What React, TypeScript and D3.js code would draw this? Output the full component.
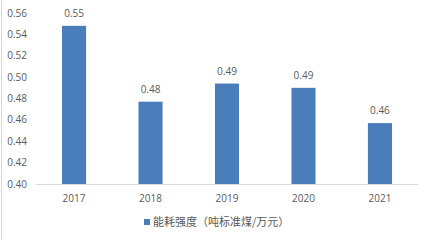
import React from "react";
import * as d3 from "d3";

const years = ["2017", "2018", "2019", "2020", "2021"];
const values = [0.548, 0.477, 0.494, 0.490, 0.457];
const labels = ["0.55", "0.48", "0.49", "0.49", "0.46"];
const yTicks = [0.4, 0.42, 0.44, 0.46, 0.48, 0.5, 0.52, 0.54, 0.56];
const seriesName = "能耗强度（吨标准煤/万元）";

export default function App() {
  const W = 429, H = 240;
  const x = d3.scaleBand<string>().domain(years).range([36, 418]).paddingInner(0.685).paddingOuter(0.34);
  const y = d3.scaleLinear().domain([0.4, 0.56]).range([184, 13]);
  const font = "'Open Sans', 'Noto Sans CJK SC', sans-serif";
  const color = "#4a7ebb";
  const textColor = "#595959";
  return (
    <svg width={W} height={H} style={{ position: "fixed", left: 0, top: 0 }} fontFamily={font}>
      <rect x={0} y={0} width={W} height={H} fill="#fff" />
      <line x1={1.5} x2={1.5} y1={0} y2={H} stroke="#d9d9d9" />
      {yTicks.map((t) => (
        <text key={t} x={27} y={y(t)} dy="0.35em" textAnchor="end" fontSize={10} fill={textColor}>
          {t.toFixed(2)}
        </text>
      ))}
      {years.map((yr, i) => (
        <g key={yr}>
          <rect x={x(yr)} y={y(values[i])} width={x.bandwidth()} height={y(0.4) - y(values[i])} fill={color} />
          <text x={(x(yr) as number) + x.bandwidth() / 2} y={y(values[i]) - 9} textAnchor="middle" fontSize={10} fill={textColor}>
            {labels[i]}
          </text>
          <text x={(x(yr) as number) + x.bandwidth() / 2} y={198} dy="0.35em" textAnchor="middle" fontSize={10} fill={textColor}>
            {yr}
          </text>
        </g>
      ))}
      <line x1={36} x2={418} y1={184.5} y2={184.5} stroke="#d9d9d9" />
      <rect x={144} y={219} width={6} height={6} fill={color} />
      <text x={153} y={222} dy="0.35em" fontSize={11} fill={textColor} fontFamily="'Noto Sans CJK SC', sans-serif">
        {seriesName}
      </text>
    </svg>
  );
}
